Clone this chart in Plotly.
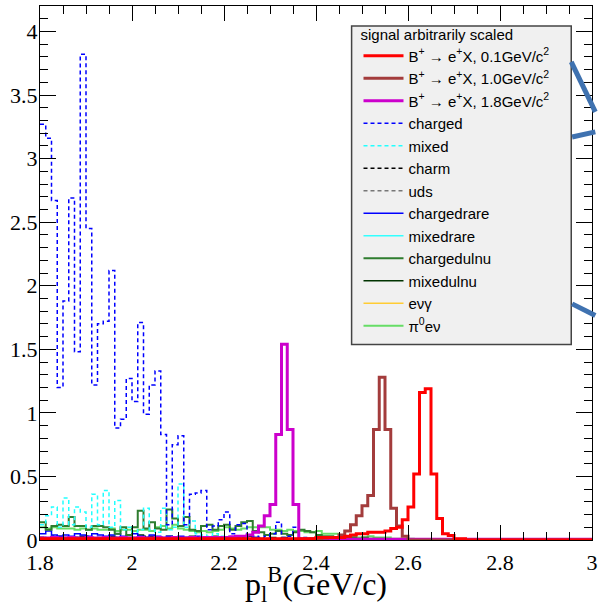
import plotly.graph_objects as go

# ---------------- data (96 bins of 0.0125 GeV/c from 1.8 to 3.0) ----------------
x_min = 1.8
bin_width = 0.0125
n_bins = 96

x_tickvals = [1.8, 2.0, 2.2, 2.4, 2.6, 2.8, 3.0]
x_ticktext = ["1.8", "2", "2.2", "2.4", "2.6", "2.8", "3"]

charged = [3.27, 3.16, 2.67, 1.20, 1.88, 2.69, 1.48, 3.82, 2.45, 1.22,
           1.70, 1.72, 2.12, 0.88, 0.95, 1.27, 1.09, 1.71, 0.99, 1.22,
           1.33, 0.83, 0.12, 0.75, 0.82, 0.12, 0.36, 0.37, 0.39, 0.08,
           0.11, 0.16, 0.22, 0.05, 0.12, 0.13, 0.04, 0.03, 0.02, 0.03,
           0.05, 0.14, 0.02, 0.03, 0.10, 0.02, 0.02, 0.01, 0.02, 0.01,
           0.01, 0.01, 0.00, 0.01, 0.00, 0.00, 0.00, 0.00, 0.00, 0.00,
           0.00, 0.00, 0.00, 0.00, 0.00, 0.00, 0.00, 0.00, 0.00, 0.00,
           0.00, 0.00, 0.00, 0.00, 0.00, 0.00, 0.00, 0.00, 0.00, 0.00,
           0.00, 0.00, 0.00, 0.00, 0.00, 0.00, 0.00, 0.00, 0.00, 0.00,
           0.00, 0.00, 0.00, 0.00, 0.00, 0.00]

mixed = [0.12, 0.19, 0.26, 0.10, 0.33, 0.12, 0.26, 0.22, 0.10, 0.36,
         0.12, 0.39, 0.10, 0.31, 0.08, 0.10, 0.06, 0.08, 0.25, 0.08,
         0.06, 0.25, 0.08, 0.10, 0.44, 0.10, 0.15, 0.05, 0.04, 0.03,
         0.05, 0.03, 0.02, 0.02, 0.01, 0.02, 0.01, 0.01, 0.02, 0.01,
         0.01, 0.00, 0.01, 0.01, 0.00, 0.00, 0.00, 0.00, 0.00, 0.00,
         0.00, 0.00, 0.00, 0.00, 0.00, 0.00, 0.00, 0.00, 0.00, 0.00,
         0.00, 0.00, 0.00, 0.00, 0.00, 0.00, 0.00, 0.00, 0.00, 0.00,
         0.00, 0.00, 0.00, 0.00, 0.00, 0.00, 0.00, 0.00, 0.00, 0.00,
         0.00, 0.00, 0.00, 0.00, 0.00, 0.00, 0.00, 0.00, 0.00, 0.00,
         0.00, 0.00, 0.00, 0.00, 0.00, 0.00]

charm = [0.02, 0.01, 0.03, 0.02, 0.01, 0.02, 0.02, 0.01, 0.03, 0.02,
         0.01, 0.02, 0.01, 0.02, 0.02, 0.01, 0.02, 0.01, 0.03, 0.02,
         0.01, 0.02, 0.01, 0.02, 0.01, 0.01, 0.02, 0.01, 0.01, 0.02,
         0.01, 0.01, 0.02, 0.01, 0.01, 0.01, 0.02, 0.01, 0.01, 0.01,
         0.01, 0.01, 0.01, 0.01, 0.00, 0.01, 0.01, 0.00, 0.01, 0.00,
         0.00, 0.00, 0.00, 0.00, 0.00, 0.00, 0.00, 0.00, 0.00, 0.00,
         0.00, 0.00, 0.00, 0.00, 0.00, 0.00, 0.00, 0.00, 0.00, 0.00,
         0.00, 0.00, 0.00, 0.00, 0.00, 0.00, 0.00, 0.00, 0.00, 0.00,
         0.00, 0.00, 0.00, 0.00, 0.00, 0.00, 0.00, 0.00, 0.00, 0.00,
         0.00, 0.00, 0.00, 0.00, 0.00, 0.00]

uds = [0.005, 0.004, 0.006, 0.005, 0.004, 0.005, 0.004, 0.005, 0.004, 0.005,
       0.004, 0.005, 0.004, 0.004, 0.005, 0.004, 0.003, 0.004, 0.003, 0.004,
       0.003, 0.003, 0.004, 0.003, 0.003, 0.002, 0.003, 0.002, 0.002, 0.002,
       0.002, 0.002, 0.002, 0.001, 0.002, 0.001, 0.001, 0.001, 0.001, 0.001,
       0.001, 0.001, 0.001, 0.001, 0.001, 0.001, 0.000, 0.000, 0.000, 0.000,
       0.000, 0.000, 0.000, 0.000, 0.000, 0.000, 0.000, 0.000, 0.000, 0.000,
       0.000, 0.000, 0.000, 0.000, 0.000, 0.000, 0.000, 0.000, 0.000, 0.000,
       0.000, 0.000, 0.000, 0.000, 0.000, 0.000, 0.000, 0.000, 0.000, 0.000,
       0.000, 0.000, 0.000, 0.000, 0.000, 0.000, 0.000, 0.000, 0.000, 0.000,
       0.000, 0.000, 0.000, 0.000, 0.000, 0.000]

chargedrare = [0.05, 0.07, 0.04, 0.03, 0.04, 0.03, 0.05, 0.04, 0.03, 0.05,
               0.04, 0.03, 0.04, 0.05, 0.03, 0.04, 0.05, 0.03, 0.02, 0.04,
               0.03, 0.02, 0.03, 0.02, 0.03, 0.02, 0.02, 0.03, 0.02, 0.02,
               0.02, 0.01, 0.02, 0.01, 0.02, 0.01, 0.01, 0.02, 0.01, 0.01,
               0.01, 0.01, 0.01, 0.00, 0.01, 0.00, 0.01, 0.00, 0.00, 0.00,
               0.00, 0.00, 0.00, 0.00, 0.00, 0.00, 0.00, 0.00, 0.00, 0.00,
               0.00, 0.00, 0.00, 0.00, 0.00, 0.00, 0.00, 0.00, 0.00, 0.00,
               0.00, 0.00, 0.00, 0.00, 0.00, 0.00, 0.00, 0.00, 0.00, 0.00,
               0.00, 0.00, 0.00, 0.00, 0.00, 0.00, 0.00, 0.00, 0.00, 0.00,
               0.00, 0.00, 0.00, 0.00, 0.00, 0.00]

mixedrare = [0.006, 0.005, 0.007, 0.005, 0.006, 0.004, 0.005, 0.006, 0.004, 0.005,
             0.004, 0.005, 0.004, 0.005, 0.003, 0.004, 0.005, 0.003, 0.004, 0.003,
             0.004, 0.003, 0.003, 0.004, 0.003, 0.002, 0.003, 0.002, 0.003, 0.002,
             0.002, 0.002, 0.002, 0.002, 0.001, 0.002, 0.001, 0.001, 0.001, 0.001,
             0.001, 0.001, 0.001, 0.001, 0.001, 0.000, 0.000, 0.000, 0.000, 0.000,
             0.000, 0.000, 0.000, 0.000, 0.000, 0.000, 0.000, 0.000, 0.000, 0.000,
             0.000, 0.000, 0.000, 0.000, 0.000, 0.000, 0.000, 0.000, 0.000, 0.000,
             0.000, 0.000, 0.000, 0.000, 0.000, 0.000, 0.000, 0.000, 0.000, 0.000,
             0.000, 0.000, 0.000, 0.000, 0.000, 0.000, 0.000, 0.000, 0.000, 0.000,
             0.000, 0.000, 0.000, 0.000, 0.000, 0.000]

chargedulnu = [0.14, 0.08, 0.11, 0.12, 0.11, 0.18, 0.11, 0.11, 0.08, 0.11,
               0.11, 0.10, 0.08, 0.05, 0.10, 0.04, 0.10, 0.23, 0.09, 0.14,
               0.09, 0.08, 0.24, 0.17, 0.11, 0.18, 0.08, 0.07, 0.11, 0.12,
               0.08, 0.11, 0.12, 0.08, 0.11, 0.14, 0.15, 0.07, 0.06, 0.04,
               0.05, 0.07, 0.05, 0.04, 0.06, 0.08, 0.07, 0.06, 0.04, 0.03,
               0.03, 0.02, 0.03, 0.02, 0.02, 0.01, 0.02, 0.01, 0.01, 0.01,
               0.005, 0.005, 0.00, 0.00, 0.00, 0.00, 0.00, 0.00, 0.00, 0.00,
               0.00, 0.00, 0.00, 0.00, 0.00, 0.00, 0.00, 0.00, 0.00, 0.00,
               0.00, 0.00, 0.00, 0.00, 0.00, 0.00, 0.00, 0.00, 0.00, 0.00,
               0.00, 0.00, 0.00, 0.00, 0.00, 0.00]

mixedulnu = [0.02, 0.01, 0.02, 0.03, 0.02, 0.01, 0.02, 0.03, 0.02, 0.01,
             0.02, 0.02, 0.03, 0.02, 0.01, 0.02, 0.01, 0.04, 0.02, 0.03,
             0.02, 0.01, 0.03, 0.02, 0.01, 0.02, 0.03, 0.02, 0.01, 0.02,
             0.03, 0.02, 0.01, 0.02, 0.01, 0.02, 0.03, 0.02, 0.01, 0.01,
             0.02, 0.01, 0.02, 0.01, 0.01, 0.01, 0.01, 0.01, 0.00, 0.01,
             0.00, 0.00, 0.00, 0.00, 0.00, 0.00, 0.00, 0.00, 0.00, 0.00,
             0.00, 0.00, 0.00, 0.00, 0.00, 0.00, 0.00, 0.00, 0.00, 0.00,
             0.00, 0.00, 0.00, 0.00, 0.00, 0.00, 0.00, 0.00, 0.00, 0.00,
             0.00, 0.00, 0.00, 0.00, 0.00, 0.00, 0.00, 0.00, 0.00, 0.00,
             0.00, 0.00, 0.00, 0.00, 0.00, 0.00]

evgamma = [0.004, 0.004, 0.003, 0.004, 0.004, 0.003, 0.004, 0.003, 0.004, 0.004,
           0.003, 0.004, 0.003, 0.004, 0.003, 0.004, 0.003, 0.004, 0.003, 0.003,
           0.004, 0.003, 0.003, 0.004, 0.003, 0.003, 0.004, 0.003, 0.003, 0.003,
           0.004, 0.003, 0.003, 0.003, 0.004, 0.003, 0.003, 0.003, 0.003, 0.004,
           0.003, 0.003, 0.003, 0.003, 0.003, 0.003, 0.003, 0.003, 0.003, 0.003,
           0.003, 0.003, 0.003, 0.003, 0.003, 0.003, 0.003, 0.003, 0.002, 0.002,
           0.002, 0.002, 0.002, 0.002, 0.002, 0.002, 0.001, 0.001, 0.001, 0.001,
           0.000, 0.000, 0.000, 0.000, 0.000, 0.000, 0.000, 0.000, 0.000, 0.000,
           0.000, 0.000, 0.000, 0.000, 0.000, 0.000, 0.000, 0.000, 0.000, 0.000,
           0.000, 0.000, 0.000, 0.000, 0.000, 0.000]

pi0enu = [0.10, 0.09, 0.10, 0.09, 0.09, 0.09, 0.08, 0.09, 0.08, 0.09,
          0.08, 0.08, 0.09, 0.07, 0.08, 0.08, 0.07, 0.08, 0.08, 0.07,
          0.10, 0.11, 0.09, 0.12, 0.09, 0.08, 0.07, 0.06, 0.07, 0.06,
          0.07, 0.08, 0.10, 0.09, 0.08, 0.09, 0.10, 0.10, 0.10, 0.10,
          0.08, 0.08, 0.07, 0.08, 0.07, 0.07, 0.06, 0.06, 0.07, 0.05,
          0.05, 0.05, 0.04, 0.03, 0.03, 0.02, 0.02, 0.03, 0.02, 0.02,
          0.02, 0.01, 0.01, 0.01, 0.01, 0.005, 0.00, 0.00, 0.00, 0.00,
          0.00, 0.00, 0.00, 0.00, 0.00, 0.00, 0.00, 0.00, 0.00, 0.00,
          0.00, 0.00, 0.00, 0.00, 0.00, 0.00, 0.00, 0.00, 0.00, 0.00,
          0.00, 0.00, 0.00, 0.00, 0.00, 0.00]

sig_01 = [0.01, 0.01, 0.01, 0.01, 0.01, 0.01, 0.01, 0.01, 0.01, 0.01,
          0.01, 0.01, 0.01, 0.01, 0.01, 0.01, 0.01, 0.01, 0.01, 0.01,
          0.01, 0.01, 0.01, 0.01, 0.01, 0.01, 0.01, 0.01, 0.01, 0.01,
          0.01, 0.01, 0.01, 0.01, 0.01, 0.01, 0.01, 0.01, 0.01, 0.01,
          0.01, 0.01, 0.01, 0.01, 0.01, 0.01, 0.01, 0.01, 0.02, 0.02,
          0.02, 0.02, 0.02, 0.03, 0.04, 0.05, 0.05, 0.06, 0.06, 0.06,
          0.07, 0.09, 0.10, 0.16, 0.26, 0.52, 1.16, 1.19, 0.52, 0.17,
          0.05, 0.035, 0.01, 0.01, 0.00, 0.00, 0.00, 0.00, 0.00, 0.00,
          0.00, 0.00, 0.00, 0.00, 0.00, 0.00, 0.00, 0.00, 0.00, 0.00,
          0.00, 0.00, 0.00, 0.00, 0.00, 0.00]

sig_10 = [0.005, 0.005, 0.005, 0.005, 0.005, 0.005, 0.005, 0.005, 0.005, 0.005,
          0.005, 0.005, 0.005, 0.005, 0.005, 0.005, 0.005, 0.005, 0.005, 0.005,
          0.005, 0.005, 0.005, 0.005, 0.005, 0.005, 0.005, 0.005, 0.005, 0.005,
          0.005, 0.005, 0.005, 0.005, 0.005, 0.005, 0.005, 0.005, 0.005, 0.005,
          0.005, 0.005, 0.005, 0.005, 0.005, 0.005, 0.01, 0.01, 0.01, 0.015,
          0.02, 0.02, 0.04, 0.07, 0.12, 0.19, 0.27, 0.35, 0.87, 1.28,
          0.87, 0.25, 0.11, 0.03, 0.00, 0.00, 0.00, 0.00, 0.00, 0.00,
          0.00, 0.00, 0.00, 0.00, 0.00, 0.00, 0.00, 0.00, 0.00, 0.00,
          0.00, 0.00, 0.00, 0.00, 0.00, 0.00, 0.00, 0.00, 0.00, 0.00,
          0.00, 0.00, 0.00, 0.00, 0.00, 0.00]

sig_18 = [0.015, 0.015, 0.02, 0.015, 0.015, 0.02, 0.015, 0.015, 0.02, 0.015,
          0.015, 0.02, 0.015, 0.015, 0.02, 0.015, 0.015, 0.02, 0.015, 0.015,
          0.02, 0.015, 0.015, 0.02, 0.015, 0.015, 0.02, 0.015, 0.02, 0.02,
          0.02, 0.02, 0.02, 0.025, 0.03, 0.03, 0.04, 0.06, 0.11, 0.19,
          0.28, 0.83, 1.54, 0.87, 0.28, 0.01, 0.005, 0.005, 0.005, 0.005,
          0.005, 0.005, 0.005, 0.005, 0.005, 0.005, 0.005, 0.005, 0.005, 0.005,
          0.005, 0.005, 0.005, 0.005, 0.005, 0.005, 0.005, 0.005, 0.005, 0.005,
          0.005, 0.005, 0.005, 0.005, 0.005, 0.005, 0.005, 0.005, 0.005, 0.005,
          0.005, 0.005, 0.005, 0.005, 0.005, 0.005, 0.005, 0.005, 0.005, 0.005,
          0.005, 0.005, 0.005, 0.005, 0.005, 0.005]

# series: (name, values, color, width, dash)
series = [
    ("B<sup>+</sup> → e<sup>+</sup>X, 0.1GeV/c<sup>2</sup>", sig_01, "#ff0000", 3, "solid"),
    ("B<sup>+</sup> → e<sup>+</sup>X, 1.0GeV/c<sup>2</sup>", sig_10, "#a33c3c", 3, "solid"),
    ("B<sup>+</sup> → e<sup>+</sup>X, 1.8GeV/c<sup>2</sup>", sig_18, "#cc00cc", 3, "solid"),
    ("charged", charged, "#0000ff", 1.5, "4px,3px"),
    ("mixed", mixed, "#22ffff", 1.5, "4px,3px"),
    ("charm", charm, "#000000", 1.5, "4px,3px"),
    ("uds", uds, "#777777", 1.5, "4px,3px"),
    ("chargedrare", chargedrare, "#0000ff", 1.5, "solid"),
    ("mixedrare", mixedrare, "#33ffff", 1.5, "solid"),
    ("chargedulnu", chargedulnu, "#2f7d2f", 2, "solid"),
    ("mixedulnu", mixedulnu, "#003300", 1.5, "solid"),
    ("eνγ", evgamma, "#ffcc33", 1.5, "solid"),
    ("π<sup>0</sup>eν", pi0enu, "#66dd66", 2, "solid"),
]

edges = [x_min + bin_width * k for k in range(n_bins + 1)]

fig = go.Figure()
draw_order = [6, 5, 8, 11, 10, 7, 12, 9, 4, 3, 2, 1, 0]
traces = {}
for i, (name, vals, color, width, dash) in enumerate(series):
    traces[i] = go.Scatter(
        x=edges, y=list(vals) + [vals[-1]], mode="lines", line_shape="hv",
        line=dict(color=color, width=width, dash=dash),
        name=name, legendgroup=f"g{i}", legendrank=i + 1,
        hoverinfo="skip",
    )
for i in draw_order:
    fig.add_trace(traces[i])

# legend frame (drawn as a box so its size matches the reference)
fig.add_shape(type="rect", xref="paper", yref="paper",
              x0=0.5645, x1=0.9624, y0=0.3659, y1=0.9625,
              fillcolor="#f0f0f0", line=dict(color="#444444", width=1.5), layer="above")

# decorative blue strokes at the right edge of the reference
arc_col = "#3f72b0"
for (x0, y0, x1, y1) in [(0.9624, 0.8955, 1.006, 0.8017),
                         (0.9640, 0.7548, 1.006, 0.7642),
                         (0.9640, 0.4422, 1.006, 0.4203)]:
    fig.add_shape(type="line", xref="paper", yref="paper", x0=x0, y0=y0, x1=x1, y1=y1,
                  line=dict(color=arc_col, width=5), layer="above")

# x-axis title
fig.add_annotation(text="p<sub>l</sub><sup>B</sup>(GeV/c)", xref="paper", yref="paper",
                   x=0.5, y=0, xanchor="center", yanchor="bottom", yshift=-69,
                   showarrow=False,
                   font=dict(family="Liberation Serif", size=32, color="black"))

axis_font = dict(family="Liberation Serif", size=22, color="black")

fig.update_layout(
    width=601, height=607,
    margin=dict(l=40, r=3, t=6, b=67),
    paper_bgcolor="white", plot_bgcolor="white",
    showlegend=True,
    legend=dict(
        x=0.577, y=0.9737, xanchor="left", yanchor="top",
        bgcolor="rgba(0,0,0,0)", borderwidth=0,
        font=dict(family="Liberation Sans", size=15, color="black"),
        title=dict(text="signal arbitrarily scaled",
                   font=dict(family="Liberation Sans", size=15, color="black")),
        tracegroupgap=1, traceorder="normal", itemwidth=40,
    ),
    xaxis=dict(
        range=[1.8, 3.0], tickmode="array", tickvals=x_tickvals, ticktext=x_ticktext,
        ticklabeloverflow="allow", ticklabelstandoff=3,
        ticks="inside", ticklen=15, tickwidth=1, tickcolor="black",
        minor=dict(dtick=0.05, ticks="inside", ticklen=8, tickcolor="black", tickwidth=1),
        showline=True, linecolor="black", linewidth=1, mirror="allticks",
        showgrid=False, zeroline=False, tickfont=axis_font,
    ),
    yaxis=dict(
        range=[0, 4.2], tickmode="linear", tick0=0, dtick=0.5,
        ticklabelstandoff=-3,
        ticks="inside", ticklen=16, tickwidth=1, tickcolor="black",
        minor=dict(dtick=0.1, ticks="inside", ticklen=8, tickcolor="black", tickwidth=1),
        showline=True, linecolor="black", linewidth=1, mirror="allticks",
        showgrid=False, zeroline=False, tickfont=axis_font,
    ),
)

fig.write_html("out.html")
